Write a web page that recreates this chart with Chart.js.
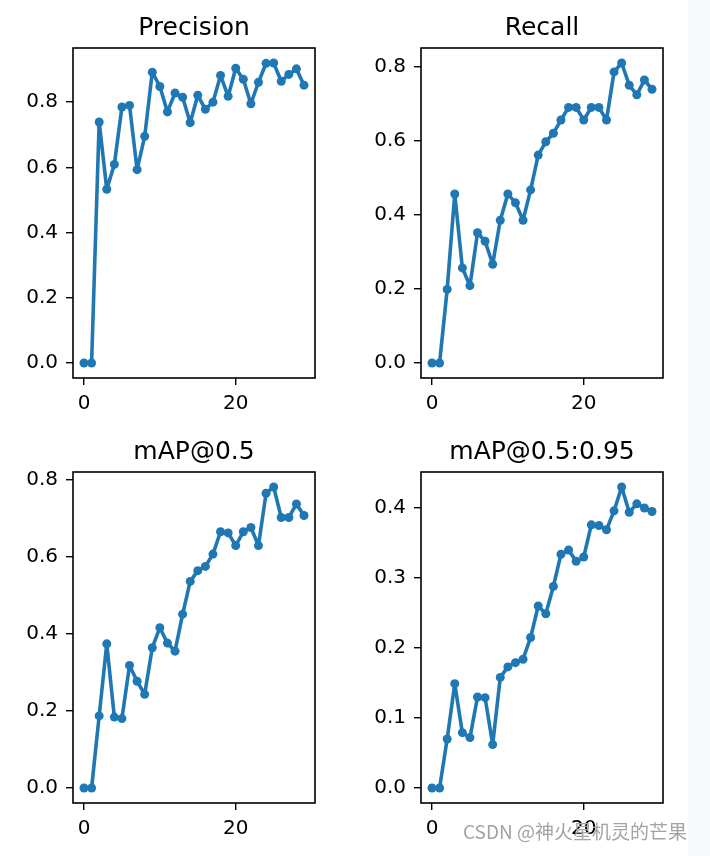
<!DOCTYPE html>
<html>
<head>
<meta charset="utf-8">
<script src="https://cdn.jsdelivr.net/npm/chart.js@4.4.0/dist/chart.umd.min.js"></script>
<style>
  html, body { margin: 0; padding: 0; background: #fff; }
  body { width: 710px; height: 856px; position: relative; overflow: hidden; }
  canvas { position: absolute; }
  #strip { position: absolute; left: 688px; top: 0; width: 22px; height: 856px; background: #f7f8fa; }
  #mark { position: absolute; left: 463px; top: 817px; font-family: "Noto Sans CJK SC"; font-size: 19px; color: #a3a3a3; white-space: nowrap; }
</style>
</head>
<body>
<div id="strip"></div>
<canvas id="c1" width="330" height="420" style="left:0px;top:0px"></canvas>
<canvas id="c2" width="330" height="420" style="left:348px;top:0px"></canvas>
<canvas id="c3" width="330" height="421" style="left:0px;top:424px"></canvas>
<canvas id="c4" width="330" height="421" style="left:348px;top:424px"></canvas>
<div id="mark">CSDN @神火星机灵的芒果</div>
<script>
// epochs on the x axis
const epochs = [0, 1, 2, 3, 4, 5, 6, 7, 8, 9, 10, 11, 12, 13, 14, 15, 16, 17, 18, 19, 20, 21, 22, 23, 24, 25, 26, 27, 28, 29];

// metric values
const precision = [0, 0, 0.739, 0.533, 0.609, 0.785, 0.790, 0.593, 0.695, 0.892, 0.848, 0.770, 0.828, 0.815, 0.737,
    0.821, 0.778, 0.800, 0.882, 0.818, 0.904, 0.870, 0.795, 0.861, 0.919, 0.920, 0.864, 0.885, 0.902, 0.852];
const recall = [0, 0, 0.199, 0.457, 0.257, 0.209, 0.352, 0.329, 0.267, 0.386, 0.457, 0.433, 0.386, 0.468, 0.562,
    0.598, 0.621, 0.657, 0.691, 0.691, 0.657, 0.691, 0.691, 0.657, 0.787, 0.811, 0.751, 0.725, 0.765, 0.740];
const map50 = [0, 0, 0.187, 0.374, 0.184, 0.180, 0.318, 0.277, 0.243, 0.364, 0.416, 0.376, 0.355, 0.451, 0.536,
    0.564, 0.575, 0.607, 0.665, 0.662, 0.629, 0.665, 0.676, 0.629, 0.765, 0.781, 0.702, 0.702, 0.737, 0.707];
const map5095 = [0, 0, 0.070, 0.149, 0.079, 0.072, 0.130, 0.129, 0.062, 0.158, 0.173, 0.179, 0.184, 0.215, 0.260,
    0.249, 0.288, 0.334, 0.340, 0.324, 0.330, 0.376, 0.375, 0.369, 0.396, 0.430, 0.394, 0.406, 0.400, 0.395];

// tick labels
const xTicks = [0, 20];
const yTicksTenths = [0, 0.2, 0.4, 0.6, 0.8];
const yTicksSmall = [0, 0.1, 0.2, 0.3, 0.4];

Chart.defaults.font.family = 'DejaVu Sans';
Chart.defaults.color = '#000';

// draws the box around the plot area, like matplotlib spines
const frame = {
    id: 'frame',
    afterDatasetsDraw(chart) {
        const a = chart.chartArea;
        const ctx = chart.ctx;
        ctx.save();
        ctx.strokeStyle = '#000';
        ctx.lineWidth = 1.6;
        ctx.strokeRect(a.left, a.top, a.right - a.left, a.bottom - a.top);
        ctx.restore();
    }
};

function makePanel(id, title, values, yTicks) {
    // matplotlib style 5% margins
    let lo = Math.min(...values), hi = Math.max(...values);
    let yPad = (hi - lo) * 0.05;
    let xLo = epochs[0], xHi = epochs[epochs.length - 1];
    let xPad = (xHi - xLo) * 0.05;

    let tickStyle = { color: '#000', lineWidth: 1.4, drawOnChartArea: false, drawTicks: true, tickLength: 7 };

    return new Chart(document.getElementById(id), {
        type: 'line',
        data: {
            datasets: [{
                data: values.map((v, i) => ({ x: epochs[i], y: v })),
                borderColor: '#1f77b4',
                backgroundColor: '#1f77b4',
                pointBackgroundColor: '#1f77b4',
                borderWidth: 3.6,
                borderJoinStyle: 'round',
                borderCapStyle: 'round',
                pointRadius: 4.5,
                pointBorderWidth: 0,
                tension: 0
            }]
        },
        options: {
            responsive: false,
            animation: false,
            layout: { padding: { left: 0, right: 15, top: 0, bottom: 0 } },
            plugins: {
                legend: { display: false },
                tooltip: { enabled: false },
                title: {
                    display: true,
                    text: title,
                    fullSize: false,
                    color: '#000',
                    font: { size: 25, weight: 'normal' },
                    padding: { top: 13, bottom: 5 }
                }
            },
            scales: {
                x: {
                    type: 'linear',
                    min: xLo - xPad,
                    max: xHi + xPad,
                    afterBuildTicks: s => { s.ticks = xTicks.map(v => ({ value: v })); },
                    afterFit: s => { s.height = 42; },
                    grid: tickStyle,
                    border: { display: false },
                    ticks: { font: { size: 20 }, color: '#000', padding: 7, maxRotation: 0, callback: v => String(v) }
                },
                y: {
                    min: lo - yPad,
                    max: hi + yPad,
                    afterBuildTicks: s => { s.ticks = yTicks.map(v => ({ value: v })); },
                    afterFit: s => { s.width = 73; },
                    grid: tickStyle,
                    border: { display: false },
                    ticks: { font: { size: 20 }, color: '#000', padding: 8, callback: v => v.toFixed(1) }
                }
            }
        },
        plugins: [frame]
    });
}

makePanel('c1', 'Precision', precision, yTicksTenths);
makePanel('c2', 'Recall', recall, yTicksTenths);
makePanel('c3', 'mAP@0.5', map50, yTicksTenths);
makePanel('c4', 'mAP@0.5:0.95', map5095, yTicksSmall);
</script>
</body>
</html>
